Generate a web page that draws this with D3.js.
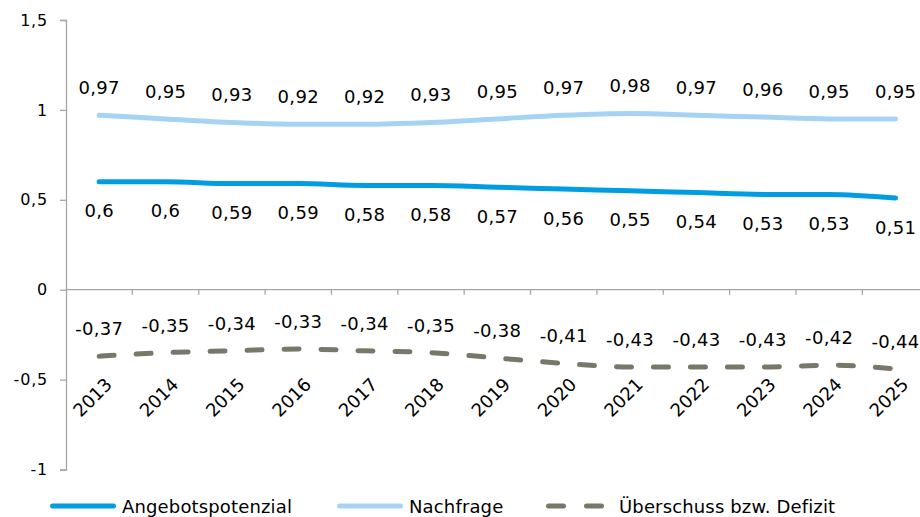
<!DOCTYPE html>
<html><head><meta charset="utf-8">
<script src="https://cdn.jsdelivr.net/npm/d3@7"></script>
<style>
body{margin:0;background:#fff;}
svg{display:block;font-family:"DejaVu Sans",Verdana,sans-serif;}
</style></head>
<body>
<svg id="c" width="920" height="517"></svg>
<script>
const years = ["2013","2014","2015","2016","2017","2018","2019","2020","2021","2022","2023","2024","2025"];
const angebot = [0.6,0.6,0.59,0.59,0.58,0.58,0.57,0.56,0.55,0.54,0.53,0.53,0.51];
const nachfrage = [0.97,0.95,0.93,0.92,0.92,0.93,0.95,0.97,0.98,0.97,0.96,0.95,0.95];
const ueberschuss = [-0.37,-0.35,-0.34,-0.33,-0.34,-0.35,-0.38,-0.41,-0.43,-0.43,-0.43,-0.42,-0.44];
const yTicks = [-1,-0.5,0,0.5,1,1.5];
const seriesNames = ["Angebotspotenzial","Nachfrage","Überschuss bzw. Defizit"];
const colors = ["#009EE0","#A6D3F3","#78786A"];

const svg = d3.select("#c");
const fmt = v => String(v).replace(".", ",");

const x = d3.scaleBand().domain(years).range([66, 928.7]).padding(0);
const y = d3.scaleLinear().domain([-1, 1.5]).range([469.5, 20]);
const cx = d => x(d) + x.bandwidth()/2;

// y axis
const yAxis = d3.axisLeft(y).tickValues(yTicks).tickSize(6).tickPadding(12).tickFormat(fmt);
const gy = svg.append("g").attr("transform","translate(66,0)").call(yAxis);
gy.select(".domain").attr("stroke","#A6A6A6").attr("stroke-width",1.3);
gy.selectAll(".tick line").attr("stroke","#A6A6A6").attr("stroke-width",1.3);
gy.selectAll(".tick text").attr("font-size",16).attr("fill","#000").attr("letter-spacing","0.8px")
  .attr("font-family","DejaVu Sans, Verdana, sans-serif");

// x axis at 0
const x0 = y(0);
svg.append("line").attr("x1",66).attr("x2",920).attr("y1",x0).attr("y2",x0)
  .attr("stroke","#A6A6A6").attr("stroke-width",1.3);
svg.append("g").selectAll("line").data(years.slice(1)).join("line")
  .attr("x1",d=>x(d)).attr("x2",d=>x(d)).attr("y1",x0).attr("y2",x0+5)
  .attr("stroke","#A6A6A6").attr("stroke-width",1.3);
svg.append("g").selectAll("text").data(years).join("text")
  .attr("transform",d=>`translate(${cx(d)+14},${x0+96}) rotate(-45)`)
  .attr("text-anchor","end").attr("font-size",18).attr("fill","#000").text(d=>d);

const line = d3.line().x((d,i)=>cx(years[i])).y(d=>y(d)).curve(d3.curveMonotoneX);

// lines
svg.append("path").datum(nachfrage).attr("d",line).attr("fill","none")
  .attr("stroke",colors[1]).attr("stroke-width",5).attr("stroke-linecap","round");
svg.append("path").datum(angebot).attr("d",line).attr("fill","none")
  .attr("stroke",colors[0]).attr("stroke-width",5).attr("stroke-linecap","round");
svg.append("path").datum(ueberschuss).attr("d",line).attr("fill","none")
  .attr("stroke",colors[2]).attr("stroke-width",5).attr("stroke-linecap","round")
  .attr("stroke-dasharray","15,22");

// data labels
function labels(data, dy){
  svg.append("g").selectAll("text").data(data).join("text")
    .attr("x",(d,i)=>cx(years[i])).attr("y",d=>y(d)+dy)
    .attr("text-anchor","middle").attr("font-size",18).attr("letter-spacing","0.3px").attr("fill","#000")
    .text(d=>fmt(d));
}
labels(nachfrage,-21);
labels(angebot,35.5);
labels(ueberschuss,-21);

// legend
const ly = 506;
const lg = svg.append("g");
lg.append("line").attr("x1",52.5).attr("x2",113.5).attr("y1",ly).attr("y2",ly)
  .attr("stroke",colors[0]).attr("stroke-width",5).attr("stroke-linecap","round");
lg.append("text").attr("x",122).attr("y",ly+6.5).attr("font-size",18).attr("letter-spacing","0.15px").text(seriesNames[0]);
lg.append("line").attr("x1",339.5).attr("x2",400.5).attr("y1",ly).attr("y2",ly)
  .attr("stroke",colors[1]).attr("stroke-width",5).attr("stroke-linecap","round");
lg.append("text").attr("x",409).attr("y",ly+6.5).attr("font-size",18).attr("letter-spacing","0.15px").text(seriesNames[1]);
lg.append("line").attr("x1",548.5).attr("x2",601.5).attr("y1",ly).attr("y2",ly)
  .attr("stroke",colors[2]).attr("stroke-width",5).attr("stroke-linecap","round")
  .attr("stroke-dasharray","15,23");
lg.append("text").attr("x",619).attr("y",ly+6.5).attr("font-size",18).attr("letter-spacing","0.15px").text(seriesNames[2]);
</script>
</body></html>
